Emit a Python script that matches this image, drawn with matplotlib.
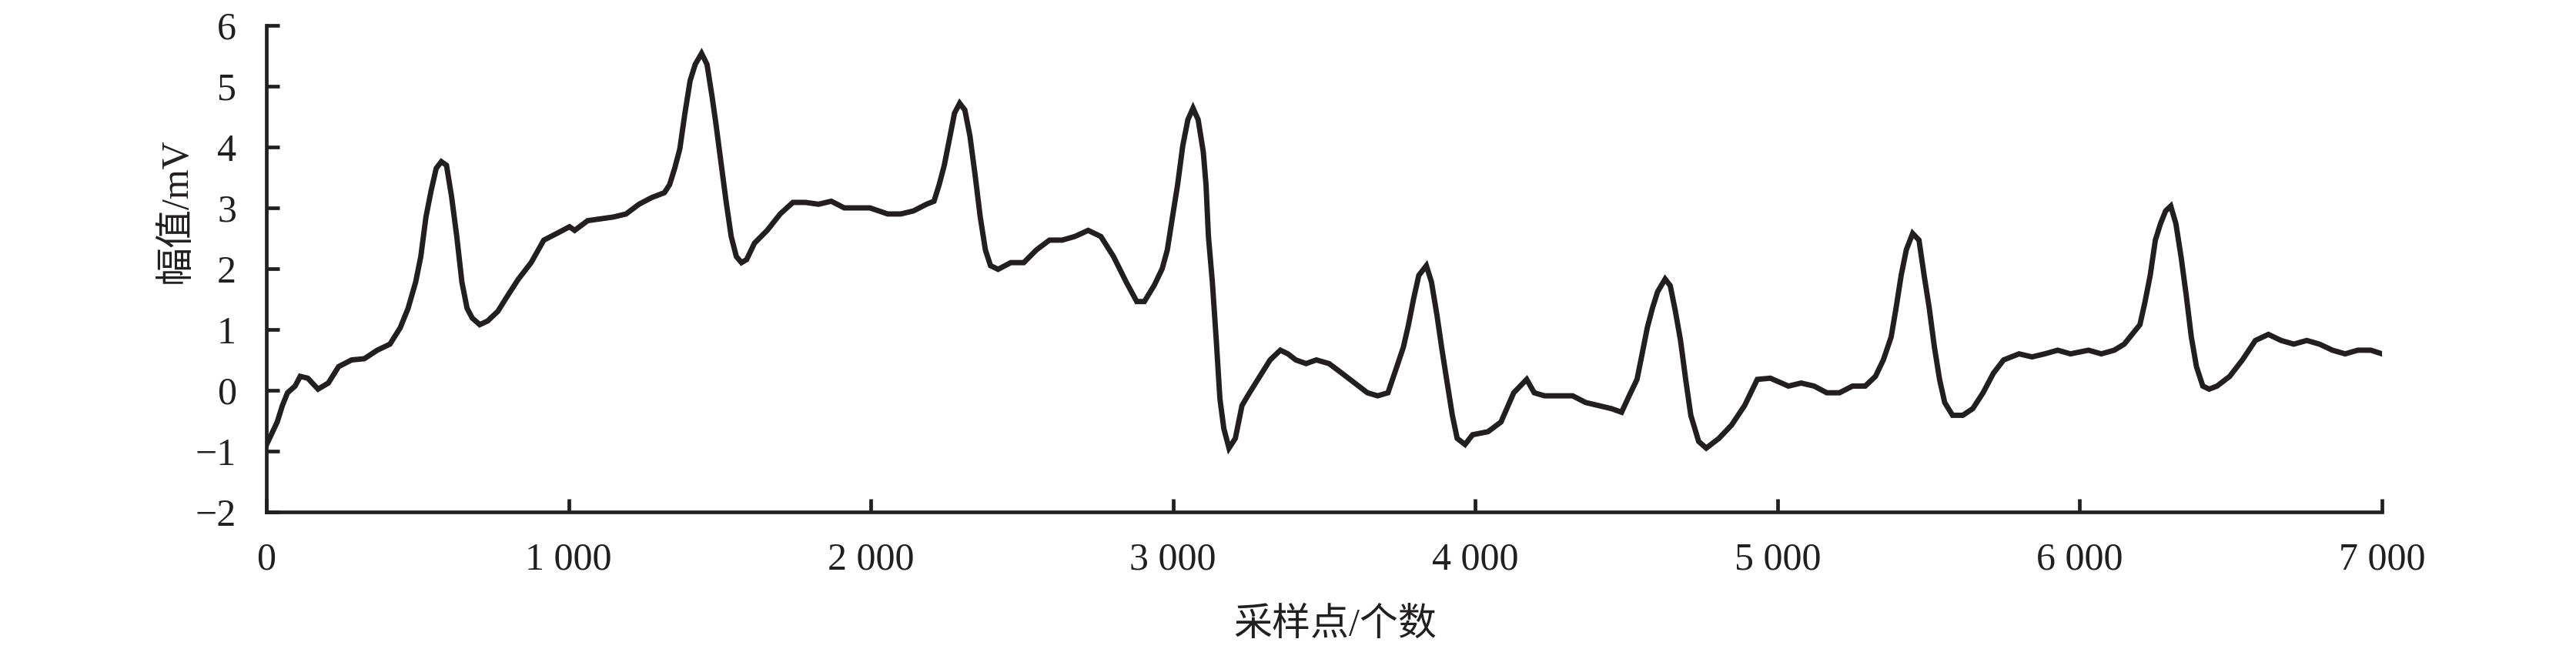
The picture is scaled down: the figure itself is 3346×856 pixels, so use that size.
import matplotlib
matplotlib.use("Agg")
import matplotlib.pyplot as plt

plt.rcParams['font.family'] = ['Liberation Serif', 'Noto Sans CJK SC']

# sample index / amplitude (mV)
sample_idx = [
    0, 36, 53, 70, 95, 112, 137, 171, 205, 239, 282, 324, 367, 409, 443, 469, 494, 511, 528, 545,
    562, 579, 596, 613, 630, 647, 664, 681, 706, 732, 766, 800, 834, 876, 918, 961, 1003,
    1020, 1063, 1106, 1148, 1190, 1233, 1275, 1317, 1334, 1351, 1368, 1385, 1402, 1419, 1440,
    1458, 1475, 1487, 1504, 1521, 1538, 1555, 1572, 1589, 1615, 1657, 1700, 1742, 1784, 1827,
    1869, 1912, 1954, 1997,
    2056, 2099, 2141, 2184, 2209, 2226, 2243, 2260, 2277, 2294, 2311, 2328, 2345, 2362, 2379,
    2396, 2421, 2463, 2506, 2548, 2591, 2633, 2675, 2719, 2761, 2803, 2845, 2880, 2905, 2938,
    2964, 2981, 2998,
    3015, 3032, 3049, 3066, 3083, 3100, 3109, 3117, 3130, 3143, 3155, 3168, 3185, 3206, 3228,
    3253, 3287, 3321, 3355, 3380, 3406, 3440, 3474, 3516, 3559, 3601, 3643, 3677, 3711, 3737,
    3762, 3779, 3796, 3813, 3838, 3855, 3873, 3890, 3907, 3924, 3940, 3966, 3991,
    4042, 4085, 4127, 4170, 4195, 4229, 4280, 4322, 4365, 4407, 4450, 4484, 4509, 4535, 4552,
    4569, 4586, 4603, 4628, 4645, 4662, 4679, 4696, 4713, 4739, 4764, 4806, 4848, 4891, 4933, 4976,
    5036, 5078, 5121, 5163, 5205, 5248, 5290, 5324, 5350, 5376, 5392, 5409, 5426, 5447, 5468,
    5485, 5502, 5519, 5536, 5553, 5579, 5613, 5646, 5680, 5714, 5748, 5799, 5842, 5884, 5927, 5969,
    6029, 6071, 6114, 6147, 6173, 6199, 6216, 6233, 6250, 6267, 6284, 6301, 6318, 6335, 6352,
    6369, 6386, 6407, 6428, 6454, 6496, 6538, 6581, 6624, 6666, 6708, 6751, 6793, 6836, 6878,
    6920, 6963, 7000,
]
amplitude = [
    -0.9, -0.52, -0.25, -0.04, 0.07, 0.23, 0.2, 0.02, 0.12, 0.39, 0.5, 0.52, 0.66, 0.76, 1.03, 1.35, 1.78, 2.2, 2.85, 3.28,
    3.65, 3.76, 3.7, 3.18, 2.53, 1.78, 1.35, 1.19, 1.08, 1.14, 1.3, 1.57, 1.83, 2.1, 2.47, 2.58, 2.69,
    2.63, 2.79, 2.82, 2.85, 2.9, 3.06, 3.17, 3.25, 3.38, 3.65, 3.97, 4.56, 5.09, 5.36, 5.54,
    5.36, 4.82, 4.4, 3.76, 3.11, 2.53, 2.2, 2.1, 2.15, 2.42, 2.63, 2.9, 3.09, 3.09, 3.06,
    3.11, 3.0, 3.0, 3.0,
    2.9, 2.9, 2.95, 3.06, 3.11, 3.38, 3.7, 4.13, 4.56, 4.72, 4.61, 4.18, 3.54, 2.85, 2.31,
    2.05, 1.99, 2.1, 2.1, 2.31, 2.47, 2.47, 2.53, 2.63, 2.53, 2.2, 1.78, 1.46, 1.46, 1.73,
    2.0, 2.31, 2.85,
    3.38, 4.02, 4.45, 4.64, 4.45, 3.92, 3.38, 2.53, 1.78, 0.82, -0.14, -0.63, -0.95, -0.79, -0.25,
    -0.04, 0.23, 0.5, 0.66, 0.6, 0.5, 0.44, 0.5, 0.44, 0.28, 0.12, -0.04, -0.09, -0.04, 0.34,
    0.71, 1.08, 1.51, 1.89, 2.05, 1.78, 1.24, 0.66, 0.12, -0.41, -0.79, -0.89, -0.73,
    -0.68, -0.52, -0.04, 0.18, -0.04, -0.09, -0.09, -0.09, -0.2, -0.25, -0.3, -0.36, -0.09, 0.18, 0.6,
    1.03, 1.35, 1.62, 1.83, 1.72, 1.3, 0.82, 0.18, -0.41, -0.84, -0.95, -0.79, -0.57, -0.25, 0.18, 0.2,
    0.07, 0.12, 0.07, -0.04, -0.04, 0.07, 0.07, 0.23, 0.5, 0.88, 1.35, 1.89, 2.31, 2.58, 2.47,
    1.89, 1.35, 0.71, 0.18, -0.2, -0.41, -0.41, -0.3, -0.04, 0.28, 0.5, 0.6, 0.55, 0.6, 0.66, 0.6,
    0.66, 0.6, 0.66, 0.76, 0.92, 1.08, 1.46, 1.89, 2.47, 2.74, 2.95, 3.03, 2.74, 2.2, 1.57,
    0.88, 0.39, 0.07, 0.02, 0.07, 0.23, 0.5, 0.82, 0.92, 0.82, 0.76, 0.82, 0.76, 0.66, 0.6,
    0.66, 0.66, 0.6,
]

x_ticks = [0, 1000, 2000, 3000, 4000, 5000, 6000, 7000]
x_tick_labels = ['0', '1 000', '2 000', '3 000', '4 000', '5 000', '6 000', '7 000']
y_ticks = [-2, -1, 0, 1, 2, 3, 4, 5, 6]
y_tick_labels = ['\u22122', '\u22121', '0', '1', '2', '3', '4', '5', '6']

ink = '#231f20'

fig = plt.figure(figsize=(33.46, 8.56), dpi=100)
ax = fig.add_axes([0.1034, 0.2231, 0.8213, 0.7383])

ax.plot(sample_idx, amplitude, color=ink, linewidth=5.0, solid_joinstyle='miter')

ax.set_xlim(0, 7000)
ax.set_ylim(-2, 6)
ax.set_xticks(x_ticks)
ax.set_xticklabels(x_tick_labels)
ax.set_yticks(y_ticks)
ax.set_yticklabels(y_tick_labels)

for side in ['top', 'right']:
    ax.spines[side].set_visible(False)
for side in ['left', 'bottom']:
    ax.spines[side].set_linewidth(3.4)
    ax.spines[side].set_color(ink)

ax.tick_params(axis='both', direction='in', length=12, width=3.4, color=ink,
               labelsize=36, labelcolor=ink)
ax.tick_params(axis='x', pad=28)
ax.tick_params(axis='y', pad=28)

ax.set_xlabel('采样点/个数', fontsize=36, color=ink)
ax.set_ylabel('幅值/mV', fontsize=36, color=ink)
ax.xaxis.set_label_coords(0.505, -0.197)
ax.yaxis.set_label_coords(-0.034, 0.62)

fig.savefig('out.png', dpi=100)
